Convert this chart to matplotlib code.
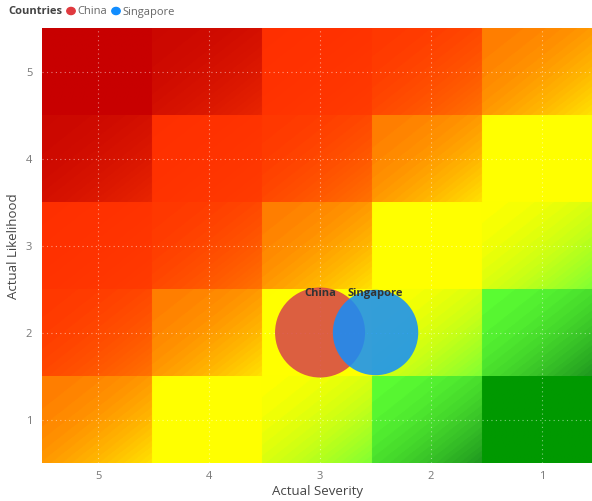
import numpy as np
import matplotlib
matplotlib.use('Agg')
import matplotlib.pyplot as plt
from matplotlib.colors import LinearSegmentedColormap

# bubble data
countries = ['China', 'Singapore']
severity = [3, 2.5]
likelihood = [2, 2]
bubble_size = [10, 9]
country_colors = ['#D6434C', '#118DFF']

# risk matrix background: rows likelihood 5..1, cols severity 5..1
cell_level = [[0, 1, 2, 3, 4],
              [1, 2, 3, 4, 5],
              [2, 3, 4, 5, 6],
              [3, 4, 5, 6, 7],
              [4, 5, 6, 7, 8]]

ticks = [1, 2, 3, 4, 5]

plt.rcParams['font.family'] = ['Open Sans', 'DejaVu Sans']

fig = plt.figure(figsize=(5.92, 5.02), dpi=100)
ax = fig.add_axes([42 / 592, 38 / 502, 550 / 592, 435 / 502])

# background heat image
stops = [(0.0, '#c80000'), (0.6, '#c80000'),
         (1.0, '#cc0800'), (1.6, '#ea2600'),
         (2.0, '#ff3000'), (2.6, '#ff3c00'),
         (3.0, '#ff3800'), (3.6, '#ff7400'),
         (4.0, '#ff7c00'), (4.6, '#ffe400'),
         (5.0, '#ffff00'), (5.6, '#ffff00'),
         (6.0, '#ffff00'), (6.6, '#80ff33'),
         (7.0, '#5cff33'), (7.6, '#1f991f'),
         (8.0, '#009900'), (8.6, '#009900')]
cmap = LinearSegmentedColormap.from_list(
    'risk', [(p / 8.6, c) for p, c in stops])

n = 80
u = (np.arange(n) + 0.5) / n
U, V = np.meshgrid(u, u)
w = ((U + V) / 2) ** 1.8
img = np.zeros((5 * n, 5 * n))
for r in range(5):
    for c in range(5):
        img[r * n:(r + 1) * n, c * n:(c + 1) * n] = cell_level[r][c] + 0.6 * w

xlim = (5.505, 0.55)
ylim = (0.5, 5.5)
ax.imshow(img, cmap=cmap, vmin=0, vmax=8.6, origin='upper',
          extent=(xlim[0], xlim[1], ylim[0], ylim[1]), aspect='auto',
          interpolation='antialiased', zorder=0)

ax.set_xlim(xlim)
ax.set_ylim(ylim)
ax.set_xticks(ticks)
ax.set_yticks(ticks)
ax.grid(True, color='white', alpha=0.5, linestyle=(0, (1, 3)), lw=0.8)
ax.set_axisbelow(False)
for s in ax.spines.values():
    s.set_visible(False)
ax.tick_params(length=0, colors='#777777', labelsize=8)
ax.tick_params(axis='x', pad=5)
ax.tick_params(axis='y', pad=7)

ax.set_xlabel('Actual Severity', color='#444444', fontsize=9.5, labelpad=2)
ax.set_ylabel('Actual Likelihood', color='#444444', fontsize=9.5, labelpad=4)

# bubbles
sizes = [b / max(bubble_size) * 4200 for b in bubble_size]
for x, y, s, col, name in zip(severity, likelihood, sizes, country_colors, countries):
    ax.scatter([x], [y], s=s, color=col, alpha=0.85, edgecolors='none', zorder=3)
    ax.annotate(name, (x, y), xytext=(0, 28.5), textcoords='offset points',
                ha='center', va='center', fontsize=8, fontweight='bold',
                color='#333333', zorder=4)

# legend
fig.text(8 / 592, 1 - 12 / 502, 'Countries', fontsize=8, fontweight='bold',
         color='#444444', va='center', ha='left')
lx = [71, 116]
for xx, col, name in zip(lx, ['#E0393E', '#118DFF'], countries):
    fig.patches.append(plt.Circle((xx / 592, 1 - 12 / 502), 4.2 / 592,
                                  transform=fig.transFigure, color=col,
                                  figure=fig))
    fig.text((xx + 6) / 592, 1 - 12 / 502, name, fontsize=8, color='#666666',
             va='center', ha='left')

fig.savefig('out.png', dpi=100)
